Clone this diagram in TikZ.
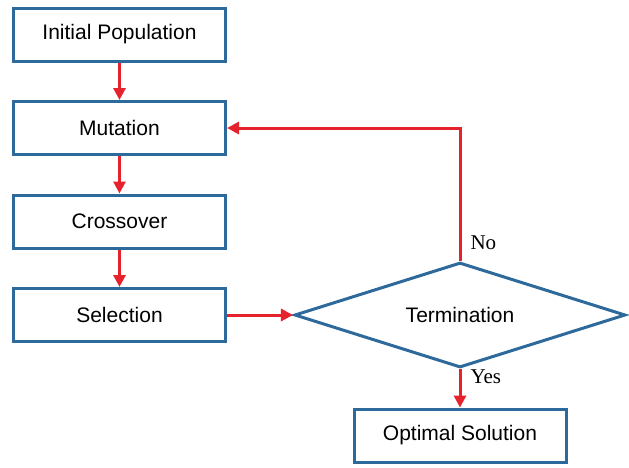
\documentclass[tikz,border=0pt]{standalone}
\usepackage{xcolor}
\usepackage{fontspec}
\setmainfont{Liberation Sans}
\newfontfamily\answerfont{Liberation Serif}
\usepackage{tikz}
\usetikzlibrary{positioning, arrows.meta, shapes.geometric}
\definecolor{boxblue}{RGB}{45,105,155}
\definecolor{flowred}{RGB}{230,35,45}

\begin{document}
\begin{tikzpicture}[node distance=37.5pt, every node/.style={font=\fontsize{21}{24}\selectfont},
    stepbox/.style={draw=boxblue, line width=3pt, minimum width=212pt, minimum height=53pt},
    flow/.style={draw=flowred, line width=3pt, -{Triangle[length=12pt,width=12pt]}},
    answer/.style={font=\answerfont\fontsize{21}{24}\selectfont, inner sep=9pt}]
    \useasboundingbox (0,0) rectangle (629pt,-467pt);
    \node[stepbox] (init) at (119.5pt,-34.5pt) {Initial Population};
    \node[stepbox, below=of init] (mutation) {Mutation};
    \node[stepbox, below=of mutation] (crossover) {Crossover};
    \node[stepbox, below=of crossover] (selection) {Selection};
    \node[diamond, aspect=3.2, draw=boxblue, line width=3pt, minimum width=331pt, minimum height=105pt, inner sep=0pt, right=66pt of selection] (term) {Termination};
    \node[stepbox, below=38.5pt of term] (optimal) {Optimal Solution};
    \draw[flow] (init) -- (mutation);
    \draw[flow] (mutation) -- (crossover);
    \draw[flow] (crossover) -- (selection);
    \draw[flow] (selection) -- (term);
    \draw[flow] (term.north) |- node[answer, pos=0.07, right]{No} (mutation.east);
    \draw[flow] (term.south) -- node[answer, pos=0.2, right]{Yes} (optimal);
\end{tikzpicture}
\end{document}
